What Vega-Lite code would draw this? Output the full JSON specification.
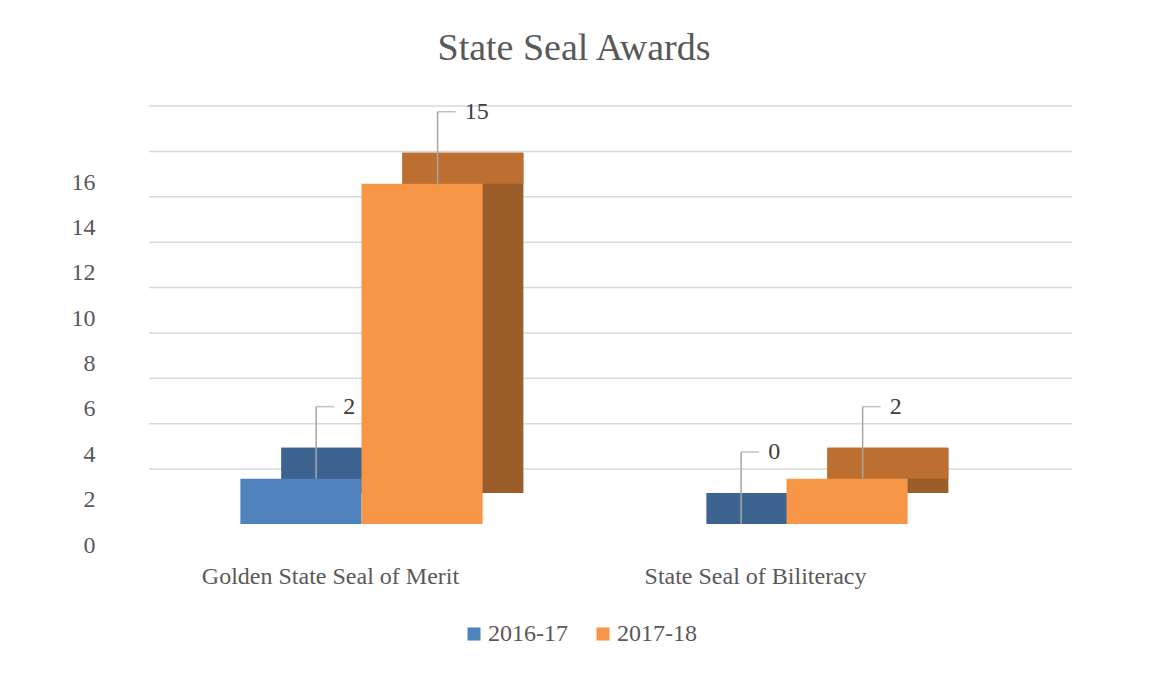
{
  "$schema": "https://vega.github.io/schema/vega-lite/v6.json",
  "width": 850,
  "height": 363,
  "autosize": {"type": "none"},
  "padding": {"left": 149, "top": 161, "right": 154, "bottom": 149},
  "background": "white",
  "title": {"text": "State Seal Awards", "fontSize": 38, "font": "Liberation Serif", "fontWeight": "normal", "color": "#595959", "offset": 32},
  "config": {
    "view": {"stroke": null},
    "font": "Liberation Serif",
    "axis": {"labelFont": "Liberation Serif", "labelLimit": 500},
    "legend": {"labelFont": "Liberation Serif"},
    "text": {"font": "Liberation Serif"}
  },
  "datasets": {
    "bars": [
      {"category": "Golden State Seal of Merit", "year": "2016-17", "count": 2},
      {"category": "Golden State Seal of Merit", "year": "2017-18", "count": 15},
      {"category": "State Seal of Biliteracy", "year": "2016-17", "count": 0},
      {"category": "State Seal of Biliteracy", "year": "2017-18", "count": 2}
    ],
    "grid": [{"v": 0}, {"v": 2}, {"v": 4}, {"v": 6}, {"v": 8}, {"v": 10}, {"v": 12}, {"v": 14}, {"v": 16}]
  },
  "resolve": {"scale": {"color": "independent", "xOffset": "independent"}},
  "layer": [
    {
      "data": {"name": "grid"},
      "mark": {"type": "rule", "color": "#d9d9d9", "strokeWidth": 1.5, "xOffset": 73, "x2Offset": 73, "yOffset": -55, "y2Offset": -55},
      "encoding": {
        "y": {"field": "v", "type": "quantitative", "scale": {"domain": [0, 16]},
          "axis": {"title": null, "values": [0, 2, 4, 6, 8, 10, 12, 14, 16], "domain": false, "ticks": false, "grid": false, "labelFontSize": 24, "labelColor": "#595959", "labelPadding": 54, "labelOffset": 21, "labelFont": "Liberation Serif"}}
      }
    },
    {
      "data": {"name": "bars"},
      "mark": {"type": "bar", "yOffset": -31, "y2Offset": -31},
      "encoding": {
        "x": {"field": "category", "type": "nominal", "sort": null, "scale": {"paddingInner": 0.43, "paddingOuter": 0.215},
          "axis": {"title": null, "domain": false, "ticks": false, "labelAngle": 0, "labelFontSize": 24, "labelColor": "#595959", "labelPadding": 40, "labelOffset": -31, "labelLimit": 500, "labelFont": "Liberation Serif"}},
        "xOffset": {"field": "year", "type": "nominal", "scale": {"range": [41, 283]}},
        "y": {"field": "count", "type": "quantitative", "scale": {"domain": [0, 16]},
          "axis": {"title": null, "values": [0, 2, 4, 6, 8, 10, 12, 14, 16], "domain": false, "ticks": false, "grid": false, "labelFontSize": 24, "labelColor": "#595959", "labelPadding": 54, "labelOffset": 21, "labelFont": "Liberation Serif"}},
        "y2": {"datum": 0},
        "color": {"field": "year", "type": "nominal", "scale": {"range": ["#3a5f8b", "#9b5e2b"]}, "legend": null}
      }
    },
    {
      "data": {"name": "bars"},
      "mark": {"type": "bar", "yOffset": -31, "y2Offset": 0},
      "encoding": {
        "x": {"field": "category", "type": "nominal", "sort": null,
          "axis": {"title": null, "domain": false, "ticks": false, "labelAngle": 0, "labelFontSize": 24, "labelColor": "#595959", "labelPadding": 40, "labelOffset": -31, "labelLimit": 500, "labelFont": "Liberation Serif"}},
        "xOffset": {"field": "year", "type": "nominal", "scale": {"range": [41, 283]}},
        "y": {"field": "count", "type": "quantitative",
          "axis": {"title": null, "values": [0, 2, 4, 6, 8, 10, 12, 14, 16], "domain": false, "ticks": false, "grid": false, "labelFontSize": 24, "labelColor": "#595959", "labelPadding": 54, "labelOffset": 21, "labelFont": "Liberation Serif"}},
        "y2": {"field": "count"},
        "color": {"field": "year", "type": "nominal", "scale": {"range": ["#3d6491", "#bd6f32"]}, "legend": null}
      }
    },
    {
      "data": {"name": "bars"},
      "mark": {"type": "bar"},
      "encoding": {
        "x": {"field": "category", "type": "nominal", "sort": null,
          "axis": {"title": null, "domain": false, "ticks": false, "labelAngle": 0, "labelFontSize": 24, "labelColor": "#595959", "labelPadding": 40, "labelOffset": -31, "labelLimit": 500, "labelFont": "Liberation Serif"}},
        "xOffset": {"field": "year", "type": "nominal", "scale": {"paddingInner": 0, "paddingOuter": 0}},
        "y": {"field": "count", "type": "quantitative",
          "axis": {"title": null, "values": [0, 2, 4, 6, 8, 10, 12, 14, 16], "domain": false, "ticks": false, "grid": false, "labelFontSize": 24, "labelColor": "#595959", "labelPadding": 54, "labelOffset": 21, "labelFont": "Liberation Serif"}},
        "color": {"field": "year", "type": "nominal", "scale": {"range": ["#4f81bd", "#f79646"]},
          "legend": {"title": null, "orient": "none", "legendX": 313, "legendY": 461, "direction": "horizontal", "symbolType": "square", "symbolSize": 170, "symbolStrokeWidth": 0, "labelFontSize": 24, "labelColor": "#595959", "labelFont": "Liberation Serif", "columnPadding": 23, "labelOffset": 2}}
      }
    },
    {
      "data": {"name": "bars"},
      "mark": {"type": "rule", "color": "#a6a6a6", "strokeWidth": 1.5, "yOffset": 0, "y2Offset": -72},
      "encoding": {
        "x": {"field": "category", "type": "nominal", "sort": null,
          "axis": {"title": null, "domain": false, "ticks": false, "labelAngle": 0, "labelFontSize": 24, "labelColor": "#595959", "labelPadding": 40, "labelOffset": -31, "labelLimit": 500, "labelFont": "Liberation Serif"}},
        "xOffset": {"field": "year", "type": "nominal", "scale": {"range": [15, 258]}},
        "y": {"field": "count", "type": "quantitative",
          "axis": {"title": null, "values": [0, 2, 4, 6, 8, 10, 12, 14, 16], "domain": false, "ticks": false, "grid": false, "labelFontSize": 24, "labelColor": "#595959", "labelPadding": 54, "labelOffset": 21, "labelFont": "Liberation Serif"}},
        "y2": {"field": "count"}
      }
    },
    {
      "data": {"name": "bars"},
      "mark": {"type": "tick", "color": "#a6a6a6", "thickness": 1.5, "size": 18, "yOffset": -72, "orient": "horizontal"},
      "encoding": {
        "x": {"field": "category", "type": "nominal", "sort": null,
          "axis": {"title": null, "domain": false, "ticks": false, "labelAngle": 0, "labelFontSize": 24, "labelColor": "#595959", "labelPadding": 40, "labelOffset": -31, "labelLimit": 500, "labelFont": "Liberation Serif"}},
        "xOffset": {"field": "year", "type": "nominal", "scale": {"range": [24, 267]}},
        "y": {"field": "count", "type": "quantitative",
          "axis": {"title": null, "values": [0, 2, 4, 6, 8, 10, 12, 14, 16], "domain": false, "ticks": false, "grid": false, "labelFontSize": 24, "labelColor": "#595959", "labelPadding": 54, "labelOffset": 21, "labelFont": "Liberation Serif"}}
      }
    },
    {
      "data": {"name": "bars"},
      "mark": {"type": "text", "dx": 42, "dy": -72, "align": "left", "baseline": "middle", "fontSize": 24, "color": "#404040", "font": "Liberation Serif"},
      "encoding": {
        "x": {"field": "category", "type": "nominal", "sort": null,
          "axis": {"title": null, "domain": false, "ticks": false, "labelAngle": 0, "labelFontSize": 24, "labelColor": "#595959", "labelPadding": 40, "labelOffset": -31, "labelLimit": 500, "labelFont": "Liberation Serif"}},
        "xOffset": {"field": "year", "type": "nominal", "scale": {"range": [0, 243]}},
        "y": {"field": "count", "type": "quantitative",
          "axis": {"title": null, "values": [0, 2, 4, 6, 8, 10, 12, 14, 16], "domain": false, "ticks": false, "grid": false, "labelFontSize": 24, "labelColor": "#595959", "labelPadding": 54, "labelOffset": 21, "labelFont": "Liberation Serif"}},
        "text": {"field": "count", "type": "quantitative"}
      }
    }
  ]
}
